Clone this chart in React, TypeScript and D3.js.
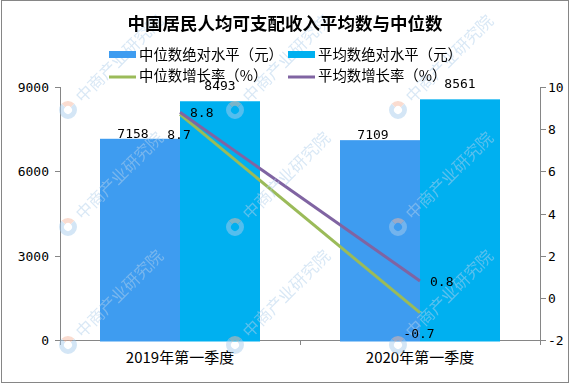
import React from 'react';
import * as d3 from 'd3';

const title = '中国居民人均可支配收入平均数与中位数';
const categories = ['2019年第一季度', '2020年第一季度'];
const medianAbs = [7158, 7109];
const meanAbs = [8493, 8561];
const medianGrowth = [8.7, -0.7];
const meanGrowth = [8.8, 0.8];
const leftTicks = [0, 3000, 6000, 9000];
const rightTicks = [-2, 0, 2, 4, 6, 8, 10];
const legendLabels = ['中位数绝对水平（元）', '平均数绝对水平（元）', '中位数增长率（%）', '平均数增长率（%）'];
const watermark = '中商产业研究院';

const W = 570;
const H = 384;
const C_MED = '#3E9CF0';
const C_MEAN = '#00B0F0';
const C_GMED = '#9BBB59';
const C_GMEAN = '#8064A2';
const AXIS = '#868686';
const MONO = '"DejaVu Sans Mono", monospace';
const CJK = '"Noto Sans CJK SC", "Noto Sans", sans-serif';

export default function App() {
  const x = d3.scaleBand<string>().domain(categories).range([60, 540]).padding(0);
  const x1 = d3.scaleBand<string>().domain(['median', 'mean']).range([40, 200]).padding(0);
  const yL = d3.scaleLinear().domain([0, 9000]).range([340, 87]);
  const yR = d3.scaleLinear().domain([-2, 10]).range([340, 87]);
  const cx = (c: string) => (x(c) as number) + x.bandwidth() / 2;

  const line = d3
    .line<number>()
    .x((_, i) => cx(categories[i]))
    .y((d) => yR(d));

  const wmX = [68, 235, 398];
  const wmY = [110, 227, 345];

  return (
    <div style={{ position: 'fixed', left: 0, top: 0, width: W, height: H, background: '#fff' }}>
      <svg width={W} height={H} style={{ display: 'block' }}>
        <rect x={0} y={0} width={W} height={H} fill="#fff" />
        <rect x={1.5} y={0.5} width={567} height={382} fill="none" stroke={AXIS} strokeWidth={1} />

        {/* axes */}
        <g stroke={AXIS} strokeWidth={1} fill="none" shapeRendering="crispEdges">
          <line x1={60.5} y1={yL(9000)} x2={60.5} y2={345} />
          <line x1={540.5} y1={yR(10)} x2={540.5} y2={345} />
          <line x1={60} y1={340.5} x2={541} y2={340.5} />
          {leftTicks.map((t) => (
            <line key={'lt' + t} x1={55} x2={60} y1={Math.round(yL(t)) + 0.5} y2={Math.round(yL(t)) + 0.5} />
          ))}
          {rightTicks.map((t) => (
            <line key={'rt' + t} x1={541} x2={546} y1={Math.round(yR(t)) + 0.5} y2={Math.round(yR(t)) + 0.5} />
          ))}
          {[60, 300].map((v) => (
            <line key={'xt' + v} x1={v + 0.5} x2={v + 0.5} y1={340} y2={345} />
          ))}
        </g>
        {leftTicks.map((t) => (
          <text key={'ltl' + t} x={49} y={yL(t) + 5} textAnchor="end" fontFamily={MONO} fontSize={13} fill="#000">
            {t}
          </text>
        ))}
        {rightTicks.map((t) => (
          <text key={'rtl' + t} x={548} y={yR(t) + 5} textAnchor="start" fontFamily={MONO} fontSize={13} fill="#000">
            {t}
          </text>
        ))}
        {categories.map((c) => (
          <text key={c} x={cx(c)} y={363} textAnchor="middle" fontFamily={CJK} fontSize={15} fill="#000">
            {c}
          </text>
        ))}

        {/* bars */}
        {categories.map((c, i) => {
          const bx = x(c) as number;
          return (
            <g key={'b' + c}>
              <rect x={bx + (x1('median') as number)} y={yL(medianAbs[i])} width={x1.bandwidth()} height={341.5 - yL(medianAbs[i])} fill={C_MED} />
              <rect x={bx + (x1('mean') as number)} y={yL(meanAbs[i])} width={x1.bandwidth()} height={341.5 - yL(meanAbs[i])} fill={C_MEAN} />
            </g>
          );
        })}

        {/* lines */}
        <path d={line(medianGrowth) as string} stroke={C_GMED} strokeWidth={3} fill="none" />
        <path d={line(meanGrowth) as string} stroke={C_GMEAN} strokeWidth={3} fill="none" />

        {/* watermarks */}
        <g opacity={0.5} pointerEvents="none">
          {wmX.map((wx) =>
            wmY.map((wy) => (
              <g key={'wm' + wx + '_' + wy} transform={`translate(${wx},${wy}) rotate(-45)`}>
                <path d="M 0 -9 A 9 9 0 0 1 9 0 L 4 0 A 4 4 0 0 0 0 -4 Z" fill="#f4b8a0" />
                <path d="M 0 -9 A 9 9 0 1 0 9 0 L 4 0 A 4 4 0 1 1 0 -4 Z" fill="#a9cdec" />
                <text x={15} y={6} fontFamily={CJK} fontSize={16.5} fill="#b3d1ec">
                  {watermark}
                </text>
              </g>
            ))
          )}
        </g>

        {/* data labels */}
        {categories.map((c, i) => {
          const bx = x(c) as number;
          const mx = bx + (x1('median') as number) + x1.bandwidth() / 2;
          const ax = bx + (x1('mean') as number) + x1.bandwidth() / 2;
          return (
            <g key={'lbl' + c} fontFamily={MONO} fontSize={13} fill="#000">
              <text x={mx - 7} y={yL(medianAbs[i]) - 1} textAnchor="middle">{medianAbs[i]}</text>
              <text x={ax} y={yL(meanAbs[i]) - 11} textAnchor="middle">{meanAbs[i]}</text>
              <text x={cx(c) - 1} y={yR(medianGrowth[i]) + 25} textAnchor="middle">{medianGrowth[i]}</text>
              <text x={cx(c) + 10} y={yR(meanGrowth[i]) + 5} textAnchor="start">{meanGrowth[i]}</text>
            </g>
          );
        })}

        {/* title */}
        <text x={285} y={30} textAnchor="middle" fontFamily={CJK} fontSize={17.5} fontWeight="bold" fill="#000">
          {title}
        </text>

        {/* legend */}
        <g fontFamily={CJK} fontSize={14.4} fill="#000">
          <rect x={109} y={51} width={27} height={7} fill={C_MED} />
          <text x={139} y={60}>{legendLabels[0]}</text>
          <rect x={288} y={51} width={27} height={7} fill={C_MEAN} />
          <text x={318} y={60}>{legendLabels[1]}</text>
          <line x1={109} x2={136} y1={77} y2={77} stroke={C_GMED} strokeWidth={3} />
          <text x={139} y={81}>{legendLabels[2]}</text>
          <line x1={288} x2={315} y1={77} y2={77} stroke={C_GMEAN} strokeWidth={3} />
          <text x={318} y={81}>{legendLabels[3]}</text>
        </g>
      </svg>
    </div>
  );
}
